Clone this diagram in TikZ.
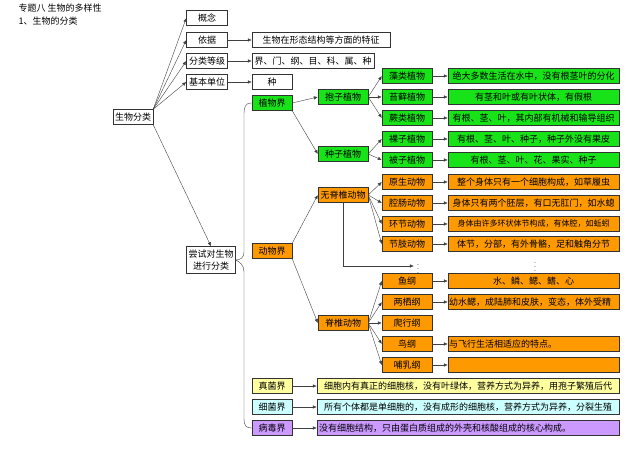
\documentclass[tikz,border=0pt]{standalone}
\usepackage{fontspec}
\setmainfont{Noto Sans CJK SC}
\usetikzlibrary{arrows.meta}
\definecolor{plantgreen}{RGB}{24,226,24}
\definecolor{animalorange}{RGB}{255,153,0}
\definecolor{fungiyellow}{RGB}{255,255,160}
\definecolor{bactcyan}{RGB}{204,255,255}
\definecolor{viruspurple}{RGB}{204,153,255}
\tikzset{Box/.style={
    inner sep=0pt,
    minimum height=15pt,
    draw=black!80,
    fill=white,
    align=center,
    font=\fontsize{9}{10}\selectfont,
    },
  arr/.style={-{Latex[length=4pt,width=3.5pt]}, draw=black!75, thin},
}
\begin{document}
\begin{tikzpicture}[x=1pt,y=-1pt]
\useasboundingbox (0,0) rectangle (640,462);
\node [anchor=west, font=\fontsize{9}{10}\selectfont] (title) at (15,8) {专题八\ 生物的多样性};
\node [anchor=west, font=\fontsize{9}{10}\selectfont] (sub) at (15,21) {1、生物的分类};
% left part
\node [Box, minimum width=40pt] (classify) at (133,117) {生物分类};
\node [Box, minimum width=41pt] (concept) at (207,18) {概念};
\node [Box, minimum width=41pt] (basis) at (207,40) {依据};
\node [Box, minimum width=41pt] (rank) at (207,61) {分类等级};
\node [Box, minimum width=41pt] (unit) at (207,82) {基本单位};
\node [Box, minimum width=138pt] (basisd) at (321,40) {生物在形态结构等方面的特征};
\node [Box, minimum width=122pt] (rankd) at (313,61) {界、门、纲、目、科、属、种};
\node [Box, minimum width=40pt] (unitd) at (272,82) {种};
\node [Box, minimum width=49pt, minimum height=27pt, font=\fontsize{9}{12}\selectfont] (try) at (211,260) {尝试对生物\\进行分类};
\foreach \n in {concept,basis,rank,unit}
  \draw[arr] (classify.north east) -- (\n.west);
\draw[arr] (classify.south east) -- (try.north);
\draw[arr] (basis) -- (basisd);
\draw[arr] (rank) -- (rankd);
\draw[arr] (unit) -- (unitd);
% kingdoms
\node [Box, minimum width=40pt, fill=plantgreen] (plant) at (272,103) {植物界};
\node [Box, minimum width=40pt, fill=animalorange] (animal) at (272,251) {动物界};
\node [Box, minimum width=40pt, fill=fungiyellow] (fungi) at (272,386) {真菌界};
\node [Box, minimum width=40pt, fill=bactcyan] (bact) at (272,407) {细菌界};
\node [Box, minimum width=40pt, fill=viruspurple] (virus) at (272,428) {病毒界};
\draw[draw=black!75] (plant.west) .. controls (245,103) and (244,107) .. (244,115) -- (244,252)
  .. controls (244,258) and (240,260) .. (try.east)
  .. controls (240,262) and (244,265) .. (244,272) -- (244,418)
  .. controls (244,426) and (246,428) .. (virus.west);
\node [Box, minimum width=302pt, fill=fungiyellow] (fungid) at (468,386) {细胞内有真正的细胞核，没有叶绿体，营养方式为异养，用孢子繁殖后代};
\node [Box, minimum width=302pt, fill=bactcyan] (bactd) at (468,407) {所有个体都是单细胞的，没有成形的细胞核，营养方式为异养，分裂生殖};
\node [Box, minimum width=302pt, fill=viruspurple, text width=298pt, align=left] (virusd) at (468,428) {没有细胞结构，只由蛋白质组成的外壳和核酸组成的核心构成。};
\draw[arr] (fungi) -- (fungid);
\draw[arr] (bact) -- (bactd);
\draw[arr] (virus) -- (virusd);
% plants
\node [Box, minimum width=50pt, fill=plantgreen] (spore) at (343,97) {抱子植物};
\node [Box, minimum width=50pt, fill=plantgreen] (seed) at (343,154) {种子植物};
\draw[arr] (plant.east) -- (spore.west);
\draw[arr] (plant.south east) -- (seed.west);
\foreach \n/\t/\d/\y/\p in {algae/藻类植物/绝大多数生活在水中，没有根茎叶的分化/76/spore,
    moss/苔藓植物/有茎和叶或有叶状体，有假根/97/spore,
    fern/蕨类植物/有根、茎、叶，其内部有机械和输导组织/118/spore,
    gymno/裸子植物/有根、茎、叶、种子，种子外没有果皮/139/seed,
    angio/被子植物/有根、茎、叶、花、果实、种子/160/seed} {
  \node [Box, minimum width=50pt, fill=plantgreen] (\n) at (407,\y) {\t};
  \node [Box, minimum width=171pt, fill=plantgreen] (\n d) at (533.5,\y) {\d};
  \draw[arr] (\p.east) -- (\n.west);
  \draw[arr] (\n) -- (\n d);
}
% animals
\node [Box, minimum width=50pt, fill=animalorange] (invert) at (343,195) {无脊椎动物};
\node [Box, minimum width=50pt, fill=animalorange] (vert) at (343,323) {脊椎动物};
\draw[arr] (animal.north east) -- (invert.west);
\draw[arr] (animal.south east) -- (vert.west);
\foreach \n/\t/\d/\y in {proto/原生动物/整个身体只有一个细胞构成，如草履虫/182,
    coel/腔肠动物/身体只有两个胚层，有口无肛门，如水螅/203,
    annel/环节动物/{\fontsize{8}{9}\selectfont 身体由许多环状体节构成，有体腔，如蚯蚓}/224,
    arthro/节肢动物/体节，分部，有外骨骼，足和触角分节/244} {
  \node [Box, minimum width=50pt, fill=animalorange] (\n) at (407,\y) {\t};
  \node [Box, minimum width=171pt, fill=animalorange] (\n d) at (533.5,\y) {\d};
  \draw[arr] (invert.east) -- (\n.west);
  \draw[arr] (\n) -- (\n d);
}
\node [inner sep=0pt, font=\scriptsize] (dotsl) at (418,266) {$\vdots$};
\node [inner sep=0pt, font=\scriptsize] (dotsr) at (535,264) {$\vdots$};
\draw[arr] (invert.south) |- ([xshift=-3pt]dotsl.west);
\node [Box, minimum width=50pt, fill=animalorange] (fish) at (407,281) {鱼纲};
\node [Box, minimum width=171pt, fill=animalorange] (fishd) at (533.5,281) {水、鳞、鳃、鳍、心};
\draw[arr] (vert.east) -- (fish.west);
\draw[arr] (fish) -- (fishd);
\foreach \n/\t/\d/\y in {amph/两栖纲/幼水鳃，成陆肺和皮肤，变态，体外受精/302,
    bird/鸟纲/与飞行生活相适应的特点。/344,
    mamm/哺乳纲//365} {
  \node [Box, minimum width=50pt, fill=animalorange] (\n) at (407,\y) {\t};
  \node [Box, minimum width=171pt, text width=169pt, align=left, fill=animalorange] (\n d) at (533.5,\y) {\d};
  \draw[arr] (vert.east) -- (\n.west);
  \draw[arr] (\n) -- (\n d);
}
\node [Box, minimum width=50pt, fill=animalorange] (rept) at (407,323) {爬行纲};
\draw[arr] (vert.east) -- (rept.west);
\end{tikzpicture}
\end{document}
